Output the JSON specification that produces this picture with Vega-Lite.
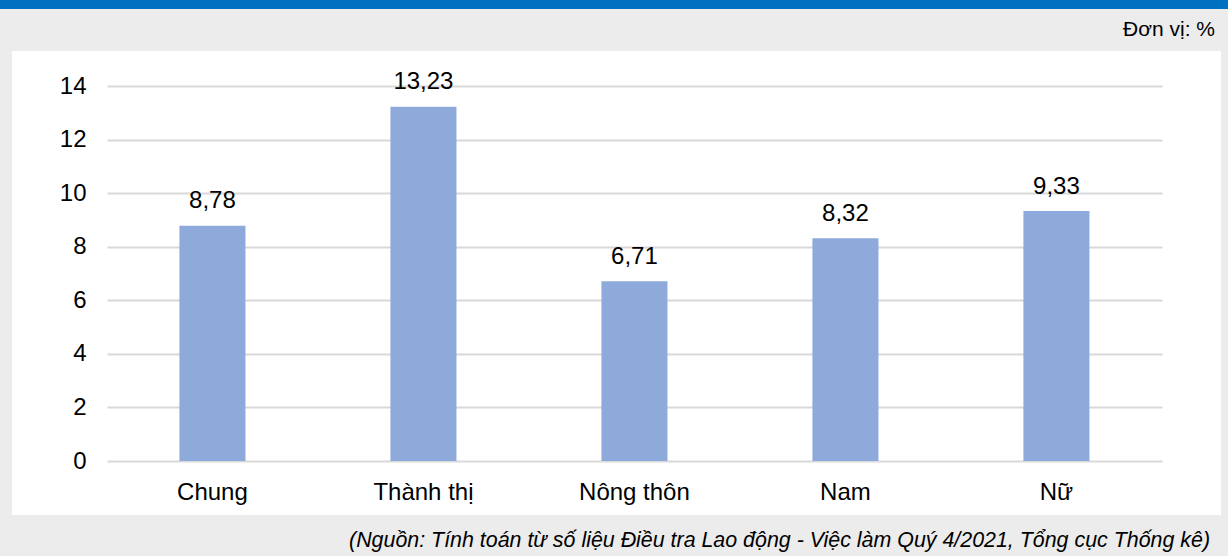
{
  "$schema": "https://vega.github.io/schema/vega-lite/v6.json",
  "background": "#ececec",
  "padding": {"left": 0, "top": 0, "right": 0, "bottom": 4},
  "config": {
    "font": "Liberation Sans",
    "view": {"stroke": null},
    "locale": {
      "number": {"decimal": ",", "thousands": ".", "grouping": [3], "currency": ["", " ₫"]}
    }
  },
  "title": {
    "text": "(Nguồn: Tính toán từ số liệu Điều tra Lao động - Việc làm Quý 4/2021, Tổng cục Thống kê)",
    "orient": "bottom",
    "anchor": "end",
    "baseline": "alphabetic",
    "offset": 32,
    "dx": -18,
    "fontSize": 21.4,
    "fontStyle": "italic",
    "fontWeight": "normal",
    "color": "#000000"
  },
  "spacing": 10,
  "vconcat": [
    {
      "width": 1228,
      "height": 9,
      "view": {"fill": "#0070c0", "stroke": null},
      "data": {"values": []},
      "mark": "point"
    },
    {
      "spacing": 0,
      "hconcat": [
        {
          "width": 12,
          "height": 464,
          "view": {"fill": null, "stroke": null},
          "data": {"values": []},
          "mark": "point"
        },
        {
          "width": 1209,
          "height": 464,
          "view": {"fill": "#ffffff", "stroke": null},
          "title": {
            "text": "Đơn vị: %",
            "orient": "top",
            "anchor": "end",
            "baseline": "alphabetic",
            "offset": -6,
            "dx": -6,
            "fontSize": 21,
            "fontWeight": "normal",
            "color": "#000000"
          },
          "data": {
            "values": [
              {"nhom": "Chung", "tyle": 8.78},
              {"nhom": "Thành thị", "tyle": 13.23},
              {"nhom": "Nông thôn", "tyle": 6.71},
              {"nhom": "Nam", "tyle": 8.32},
              {"nhom": "Nữ", "tyle": 9.33}
            ]
          },
          "encoding": {
            "x": {
              "field": "nhom",
              "type": "nominal",
              "sort": null,
              "scale": {"paddingInner": 0.687, "paddingOuter": 0.7085, "align": 0.56},
              "axis": {
                "orient": "bottom",
                "offset": -54,
                "domain": false,
                "ticks": false,
                "labelAngle": 0,
                "labelFontSize": 24,
                "labelColor": "#000000",
                "labelPadding": 19,
                "title": null
              }
            }
          },
          "layer": [
            {
              "mark": {"type": "bar", "color": "#8eaadb"},
              "encoding": {
                "y": {
                  "field": "tyle",
                  "type": "quantitative",
                  "scale": {"domain": [-2.016, 15.307], "nice": false, "zero": false},
                  "axis": {
                    "orient": "left",
                    "offset": -95,
                    "values": [0, 2, 4, 6, 8, 10, 12, 14],
                    "format": "d",
                    "domain": false,
                    "grid": false,
                    "tickSize": -1055,
                    "tickColor": "#d9d9d9",
                    "tickWidth": 2,
                    "labelFontSize": 24,
                    "labelColor": "#000000",
                    "labelPadding": 1076,
                    "title": null
                  }
                },
                "y2": {"datum": 0}
              }
            },
            {
              "mark": {"type": "text", "baseline": "alphabetic", "dy": -17.5, "fontSize": 24, "color": "#000000"},
              "encoding": {
                "y": {"field": "tyle", "type": "quantitative"},
                "text": {"field": "tyle", "type": "quantitative", "format": ".2f"}
              }
            }
          ]
        }
      ]
    }
  ]
}
